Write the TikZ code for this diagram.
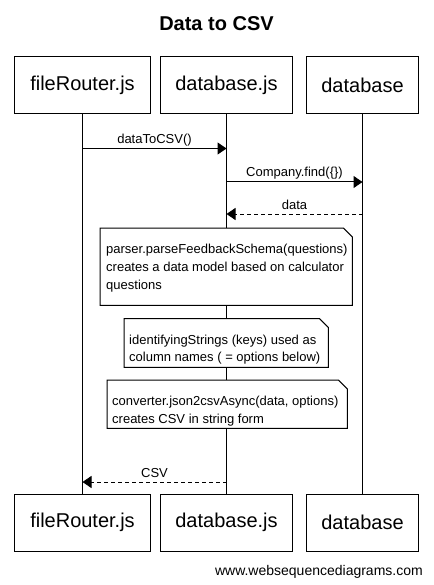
\documentclass[tikz,border=0pt]{standalone}
\usepackage{fontspec}
\setmainfont{Liberation Sans}
\usetikzlibrary{arrows.meta}
\begin{document}
\begin{tikzpicture}[x=1pt,y=-1pt,
  actor/.style={draw, line width=1pt, minimum height=57pt, inner sep=0pt,
    font=\fontsize{20}{24}\selectfont},
  msg/.style={line width=1pt, -{Triangle[length=9pt,width=12pt]}},
  ret/.style={msg, dash pattern=on 4pt off 3pt},
  lbl/.style={midway, anchor=base, yshift=5pt, inner sep=0pt,
    font=\fontsize{13}{15}\selectfont},
  notebox/.style={fill=white, anchor=north west, inner sep=0pt},
  notetext/.style={anchor=base west, inner sep=0pt, align=left,
    font=\fontsize{13}{17.8}\selectfont},
  noteline/.style={line width=1pt},
  life/.style={line width=1pt}]
\useasboundingbox (0,0) rectangle (433,585);
\fill[white] (0,0) rectangle (433,585);

\node[font=\bfseries\fontsize{20}{24}\selectfont] (title) at (216.5,24) {Data to CSV};

% top actors
\node[actor, minimum width=135.5pt] (a1) at (82.5,85.5) {fileRouter.js};
\node[actor, minimum width=131.5pt] (b1) at (226.5,85.5) {database.js};
\node[actor, minimum width=112pt] (c1) at (362.5,85.5) {database};
% bottom actors
\node[actor, minimum width=135.5pt] (a2) at (82.5,522.5) {fileRouter.js};
\node[actor, minimum width=131.5pt] (b2) at (226.5,522.5) {database.js};
\node[actor, minimum width=112pt] (c2) at (362.5,522.5) {database};

% lifelines
\draw[life] (a1.south) -- (a2.north);
\draw[life] (b1.south) -- (b2.north);
\draw[life] (c1.south) -- (c2.north);

% messages
\coordinate (y1) at (0,148.5);
\coordinate (y2) at (0,182);
\coordinate (y3) at (0,214);
\coordinate (y4) at (0,482);
\draw[msg] (a1 |- y1) -- node[lbl] {dataToCSV()} (b1 |- y1);
\draw[msg] (b1 |- y2) -- node[lbl] {Company.find(\{\})} (c1 |- y2);
\draw[ret] (c1 |- y3) -- node[lbl] {data} (b1 |- y3);
\draw[ret] (b1 |- y4) -- node[lbl] {CSV} (a1 |- y4);

% notes
\node[notebox, minimum width=252pt, minimum height=77pt] (n1) at (100,228) {};
\draw[noteline] (n1.north west) -- ([xshift=-9pt]n1.north east) -- ([yshift=-9pt]n1.north east)
  -- (n1.south east) -- (n1.south west) -- cycle;
\node[notetext] (n1t) at ([xshift=6pt,yshift=-61.1pt]n1.north west)
  {parser.parseFeedbackSchema(questions)\\creates a data model based on calculator\\questions};

\node[notebox, minimum width=204pt, minimum height=48.5pt] (n2) at (124,318.5) {};
\draw[noteline] (n2.north west) -- ([xshift=-9pt]n2.north east) -- ([yshift=-9pt]n2.north east)
  -- (n2.south east) -- (n2.south west) -- cycle;
\node[notetext] (n2t) at ([xshift=5pt,yshift=-43.3pt]n2.north west)
  {identifyingStrings (keys) used as\\column names ( = options below)};

\node[notebox, minimum width=240pt, minimum height=48pt] (n3) at (107,380) {};
\draw[noteline] (n3.north west) -- ([xshift=-9pt]n3.north east) -- ([yshift=-9pt]n3.north east)
  -- (n3.south east) -- (n3.south west) -- cycle;
\node[notetext] (n3t) at ([xshift=5pt,yshift=-43.3pt]n3.north west)
  {converter.json2csvAsync(data, options)\\creates CSV in string form};

\node[anchor=east, inner sep=0pt, font=\fontsize{14}{16}\selectfont] (foot) at (423,572)
  {www.websequencediagrams.com};
\end{tikzpicture}
\end{document}
